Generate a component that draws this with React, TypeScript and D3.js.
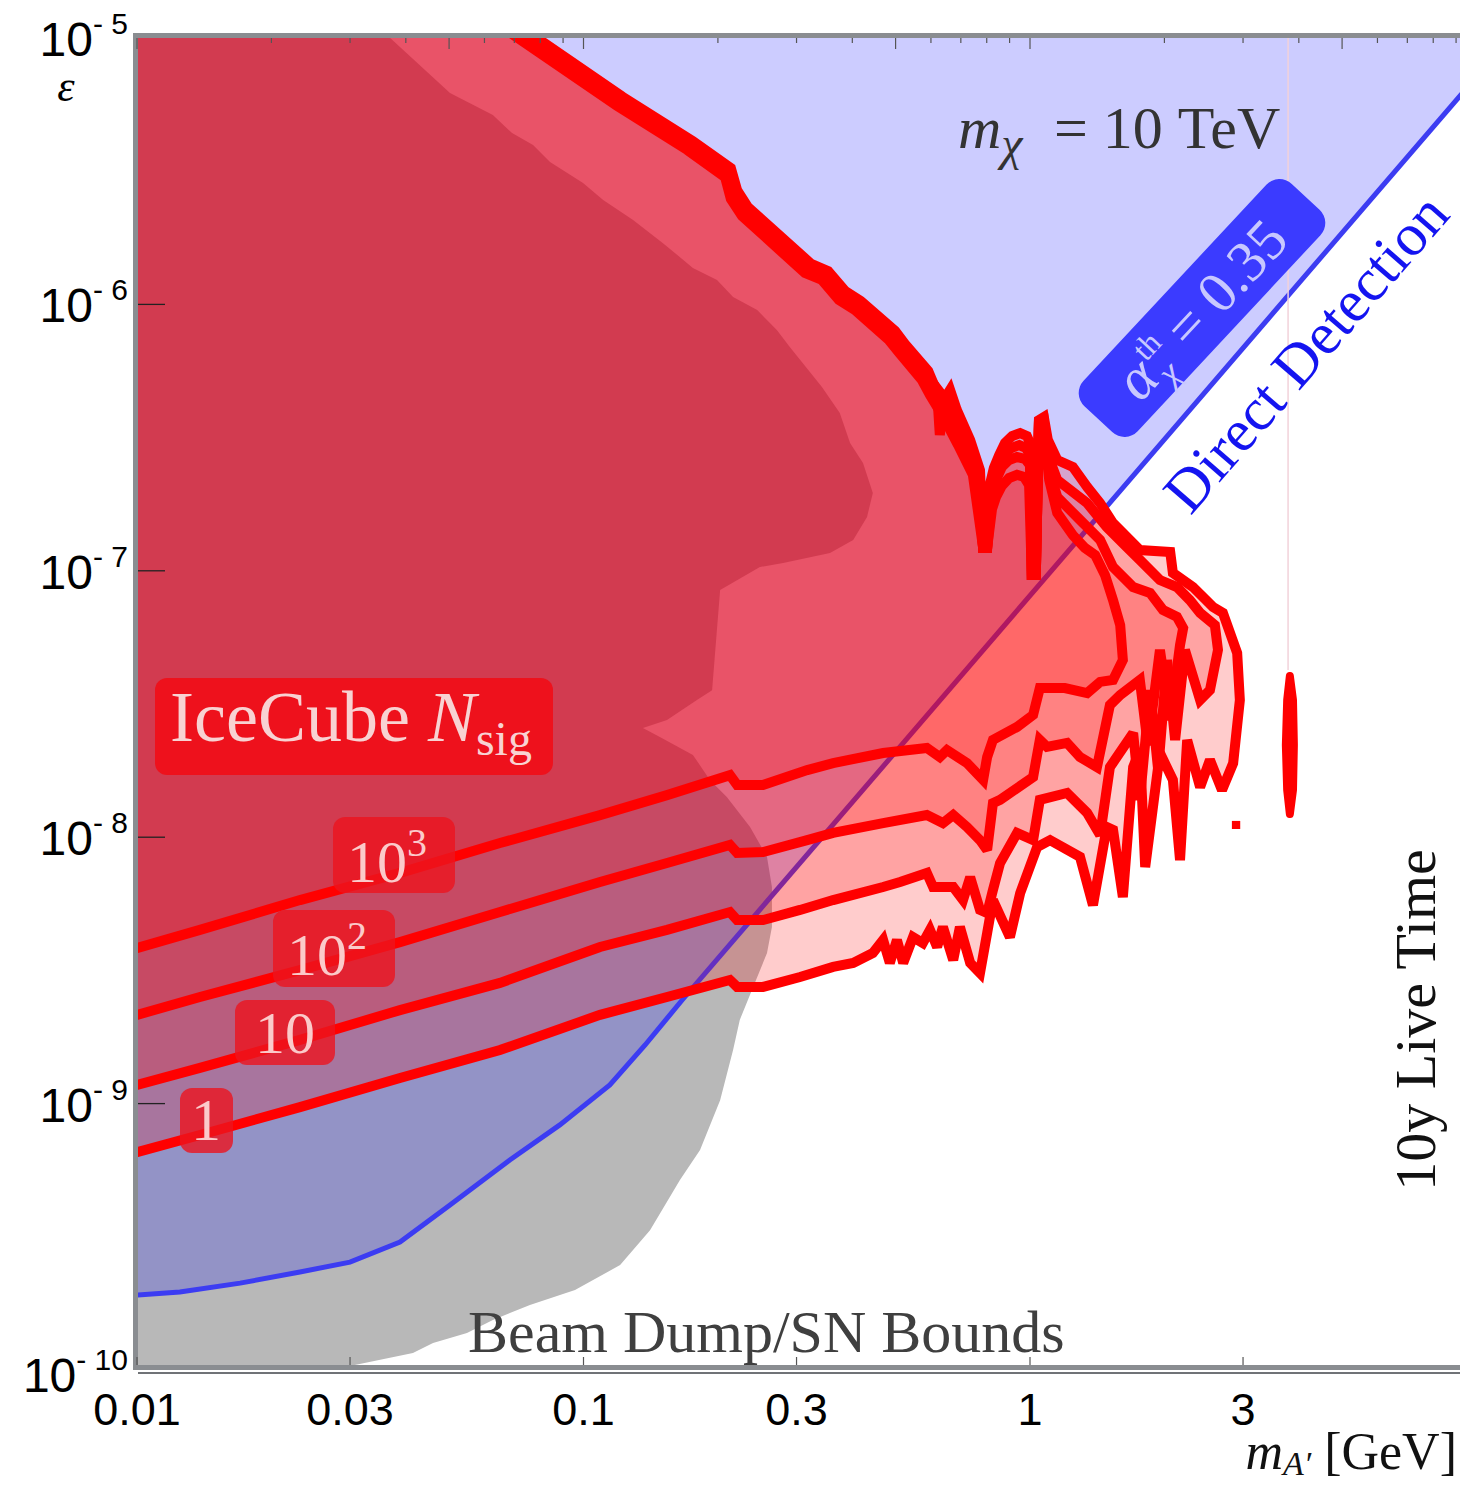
import React from "react";
import * as d3 from "d3";

type Pt = [number, number]; // [log10(m_A' / GeV), log10(epsilon)]

const W = 1460;
const H = 1486;

const massTickValues = [0.01, 0.03, 0.1, 0.3, 1, 3];
const massTickLabels = ["0.01", "0.03", "0.1", "0.3", "1", "3"];
const epsDecades = [-5, -6, -7, -8, -9, -10];

// Beam dump / SN excluded region (left of boundary), log10 coordinates
const beamDump: Pt[] = [
  [-2.022, -4.91], [-1.492, -4.91], [-1.433, -5.0], [-1.299, -5.206], [-1.203, -5.289], [-1.16, -5.357],
  [-1.113, -5.402], [-1.075, -5.465], [-1.001, -5.544], [-0.956, -5.608], [-0.889, -5.683], [-0.822, -5.77],
  [-0.755, -5.863], [-0.701, -5.908], [-0.665, -5.972], [-0.611, -6.021], [-0.567, -6.096], [-0.538, -6.16],
  [-0.466, -6.31], [-0.426, -6.408], [-0.403, -6.52], [-0.374, -6.595], [-0.352, -6.708], [-0.365, -6.798],
  [-0.396, -6.884], [-0.448, -6.933], [-0.553, -6.971], [-0.605, -6.986], [-0.694, -7.072], [-0.703, -7.26],
  [-0.712, -7.448], [-0.746, -7.485], [-0.813, -7.56], [-0.867, -7.59], [-0.829, -7.624], [-0.755, -7.691],
  [-0.717, -7.785], [-0.679, -7.849], [-0.627, -7.962], [-0.589, -8.074], [-0.578, -8.187], [-0.578, -8.337],
  [-0.589, -8.435], [-0.62, -8.562], [-0.65, -8.686], [-0.665, -8.799], [-0.694, -8.987], [-0.739, -9.174],
  [-0.784, -9.287], [-0.851, -9.475], [-0.918, -9.606], [-1.019, -9.7], [-1.12, -9.756], [-1.203, -9.812],
  [-1.261, -9.861], [-1.337, -9.899], [-1.382, -9.936], [-1.523, -9.985], [-1.635, -10.019], [-2.022, -10.03],
];

// Direct detection bound (alpha_chi^th = 0.35), excluded above
const directDetection: Pt[] = [
  [-2.022, -9.722], [-2.0, -9.719], [-1.904, -9.707], [-1.769, -9.674], [-1.635, -9.632], [-1.523, -9.595],
  [-1.411, -9.52], [-1.299, -9.381], [-1.165, -9.212], [-1.053, -9.08], [-0.941, -8.93], [-0.862, -8.78],
  [-0.779, -8.611], [1.001, -5.143],
];

// IceCube N_sig contours (closed regions)
const contourN1: Pt[] = [
  [-2.022, -9.193], [-2.0, -9.182], [-1.859, -9.118], [-1.635, -9.013], [-1.411, -8.904], [-1.187, -8.799],
  [-0.963, -8.667], [-0.813, -8.6], [-0.672, -8.536], [-0.656, -8.562], [-0.598, -8.562], [-0.515, -8.525],
  [-0.441, -8.487], [-0.396, -8.472], [-0.352, -8.435], [-0.329, -8.386], [-0.314, -8.472], [-0.298, -8.386],
  [-0.284, -8.472], [-0.262, -8.375], [-0.24, -8.397], [-0.224, -8.348], [-0.208, -8.412], [-0.195, -8.337],
  [-0.172, -8.461], [-0.157, -8.337], [-0.134, -8.472], [-0.112, -8.51], [-0.096, -8.36], [-0.083, -8.236],
  [-0.045, -8.375], [-0.022, -8.21], [0.016, -8.037], [0.045, -8.011], [0.112, -8.074], [0.141, -8.255],
  [0.172, -7.962], [0.186, -7.973], [0.208, -8.225], [0.231, -7.737], [0.246, -7.673], [0.258, -8.112],
  [0.291, -7.684], [0.32, -7.785], [0.336, -8.086], [0.352, -7.635], [0.381, -7.812], [0.403, -7.71],
  [0.43, -7.823], [0.455, -7.722], [0.47, -7.485], [0.464, -7.309], [0.432, -7.158], [0.41, -7.136],
  [0.365, -7.061], [0.32, -7.008], [0.314, -6.929], [0.246, -6.922], [0.186, -6.821], [0.157, -6.746],
  [0.128, -6.685], [0.096, -6.61], [0.061, -6.584], [0.04, -6.509], [0.031, -6.423], [0.02, -6.434],
  [0.013, -7.016], [0.004, -7.016], [0.002, -6.528], [-0.007, -6.494], [-0.022, -6.483], [-0.04, -6.494],
  [-0.056, -6.52], [-0.069, -6.565], [-0.081, -6.614], [-0.09, -6.678],
  [-0.096, -6.914], [-0.105, -6.914], [-0.112, -6.622], [-0.134, -6.509], [-0.164, -6.396], [-0.179, -6.321],
  [-0.193, -6.359], [-0.202, -6.49], [-0.208, -6.329], [-0.228, -6.25], [-0.28, -6.149], [-0.302, -6.1],
  [-0.379, -5.987], [-0.414, -5.95], [-0.452, -5.875], [-0.49, -5.848], [-0.632, -5.634], [-0.656, -5.571],
  [-0.67, -5.488], [-0.755, -5.387], [-0.912, -5.221], [-1.091, -5.015], [-1.183, -4.91], [-2.022, -4.91],
];

const contourN10: Pt[] = [
  [-2.022, -8.941], [-2.0, -8.93], [-1.859, -8.866], [-1.635, -8.761], [-1.411, -8.649], [-1.187, -8.547],
  [-0.963, -8.412], [-0.813, -8.348], [-0.672, -8.281], [-0.656, -8.311], [-0.598, -8.311], [-0.515, -8.273],
  [-0.441, -8.236], [-0.329, -8.187], [-0.291, -8.168], [-0.231, -8.134], [-0.217, -8.187], [-0.172, -8.187],
  [-0.15, -8.236], [-0.134, -8.15], [-0.112, -8.273], [-0.096, -8.285], [-0.083, -8.198], [-0.067, -8.097],
  [-0.029, -7.984], [0.007, -8.011], [0.022, -7.86], [0.083, -7.834], [0.128, -7.909], [0.157, -7.992],
  [0.179, -7.737], [0.231, -7.609], [0.246, -7.86], [0.269, -7.448], [0.287, -7.748], [0.307, -7.335], [0.325, -7.635],
  [0.347, -7.297], [0.381, -7.485], [0.403, -7.448], [0.421, -7.297], [0.414, -7.204], [0.381, -7.158],
  [0.358, -7.11], [0.329, -7.061], [0.291, -7.035], [0.246, -6.959], [0.217, -6.911], [0.172, -6.836],
  [0.128, -6.746], [0.061, -6.659], [0.04, -6.565], [0.031, -6.434], [0.02, -6.441], [0.013, -7.016],
  [0.004, -7.016], [0.0, -6.565], [-0.009, -6.539], [-0.024, -6.528], [-0.042, -6.539], [-0.058, -6.565],
  [-0.071, -6.61], [-0.082, -6.667], [-0.089, -6.734], [-0.096, -6.914],
  [-0.105, -6.914], [-0.119, -6.622], [-0.143, -6.52], [-0.172, -6.378], [-0.202, -6.329], [-0.233, -6.261],
  [-0.284, -6.16], [-0.307, -6.111], [-0.383, -5.998], [-0.419, -5.961], [-0.457, -5.886], [-0.495, -5.86],
  [-0.636, -5.646], [-0.661, -5.582], [-0.674, -5.499], [-0.759, -5.398], [-0.916, -5.233], [-1.095, -5.026],
  [-1.189, -4.917], [-2.022, -4.917],
];

const contourN100: Pt[] = [
  [-2.022, -8.679], [-2.0, -8.667], [-1.859, -8.6], [-1.635, -8.499], [-1.411, -8.394], [-1.187, -8.281],
  [-0.963, -8.168], [-0.813, -8.097], [-0.672, -8.029], [-0.656, -8.059], [-0.598, -8.056], [-0.499, -8.011],
  [-0.441, -7.984], [-0.329, -7.947], [-0.231, -7.917], [-0.195, -7.947], [-0.172, -7.917], [-0.141, -7.962],
  [-0.112, -8.011], [-0.096, -8.048], [-0.083, -7.872], [-0.067, -7.86], [0.007, -7.774], [0.022, -7.635],
  [0.038, -7.661], [0.083, -7.646], [0.112, -7.699], [0.15, -7.737], [0.179, -7.504], [0.202, -7.466],
  [0.246, -7.41], [0.264, -7.654], [0.291, -7.297], [0.314, -7.56], [0.336, -7.279], [0.343, -7.215], [0.329, -7.173], [0.298, -7.147],
  [0.269, -7.083], [0.231, -7.061], [0.186, -6.986], [0.157, -6.884], [0.112, -6.809], [0.061, -6.723],
  [0.043, -6.622], [0.029, -6.438], [0.02, -6.445], [0.013, -7.016], [0.004, -7.016], [0.0, -6.603],
  [-0.011, -6.58], [-0.029, -6.573], [-0.047, -6.584], [-0.063, -6.61], [-0.076, -6.659], [-0.085, -6.723],
  [-0.096, -6.914], [-0.105, -6.914], [-0.121, -6.622],
  [-0.152, -6.49], [-0.186, -6.378], [-0.215, -6.303], [-0.237, -6.273], [-0.289, -6.171], [-0.311, -6.122],
  [-0.387, -6.01], [-0.423, -5.972], [-0.461, -5.897], [-0.499, -5.871], [-0.641, -5.657], [-0.665, -5.593],
  [-0.679, -5.511], [-0.764, -5.409], [-0.92, -5.244], [-1.1, -5.038], [-1.196, -4.925], [-2.022, -4.925],
];

const contourN1000: Pt[] = [
  [-2.022, -8.423], [-2.0, -8.416], [-1.859, -8.348], [-1.635, -8.236], [-1.411, -8.134], [-1.187, -8.022],
  [-0.963, -7.917], [-0.813, -7.842], [-0.672, -7.767], [-0.656, -7.804], [-0.598, -7.804], [-0.499, -7.748],
  [-0.441, -7.722], [-0.329, -7.684], [-0.231, -7.665], [-0.202, -7.699], [-0.186, -7.673], [-0.141, -7.722],
  [-0.105, -7.785], [-0.096, -7.699], [-0.083, -7.635], [-0.029, -7.586], [0.007, -7.541], [0.022, -7.44],
  [0.078, -7.44], [0.128, -7.459], [0.157, -7.417], [0.186, -7.41], [0.208, -7.335], [0.202, -7.204],
  [0.186, -7.11], [0.168, -7.016], [0.146, -6.941], [0.123, -6.914], [0.096, -6.866], [0.061, -6.783],
  [0.043, -6.659], [0.029, -6.441], [0.02, -6.449], [0.013, -7.016], [0.004, -7.016], [-0.002, -6.678],
  [-0.013, -6.648], [-0.029, -6.64], [-0.047, -6.652], [-0.063, -6.681], [-0.076, -6.723], [-0.085, -6.768],
  [-0.096, -6.914], [-0.105, -6.914], [-0.128, -6.64],
  [-0.161, -6.528], [-0.193, -6.426], [-0.224, -6.34], [-0.242, -6.284], [-0.293, -6.182], [-0.316, -6.134],
  [-0.392, -6.021], [-0.428, -5.983], [-0.466, -5.908], [-0.504, -5.882], [-0.645, -5.668], [-0.67, -5.604],
  [-0.683, -5.522], [-0.768, -5.42], [-0.925, -5.255], [-1.104, -5.049], [-1.203, -4.936], [-2.022, -4.936],
];

// small isolated islands of the N=1 contour
const islandN1: Pt[] = [
  [0.582, -7.395], [0.589, -7.485], [0.591, -7.654], [0.589, -7.823], [0.582, -7.913], [0.576, -7.823],
  [0.573, -7.654], [0.576, -7.485],
];
const dotN1: Pt[] = [[0.46, -7.952], [0.463, -7.952], [0.463, -7.956], [0.46, -7.956]];
const faintLine: Pt[] = [[0.578, -4.95], [0.578, -7.372]];

const contours = [contourN1, contourN10, contourN100, contourN1000];

export default function App() {
  const x = d3.scaleLog().domain([0.01, 10]).range([137, 1476.5]);
  const y = d3.scaleLog().domain([1e-10, 1e-5]).range([1370, 38]);
  const proj = (p: Pt[]) => p.map(([lm, le]) => [x(Math.pow(10, lm)), y(Math.pow(10, le))] as [number, number]);
  const lineGen = d3.line();
  const closed = (p: Pt[]) => (lineGen(proj(p)) || "") + "Z";
  const open = (p: Pt[]) => lineGen(proj(p)) || "";
  const serif = "'Liberation Serif', 'Times New Roman', serif";
  const sans = "'Liberation Sans', Arial, sans-serif";

  const topTicks: { v: number; major: boolean }[] = [];
  [0.01, 0.1, 1].forEach((d) => {
    for (let k = 1; k <= 9; k++) topTicks.push({ v: d * k, major: k === 1 || k === 5 });
  });

  const ddPoly: Pt[] = [...directDetection, [1.001, -4.9], [-2.022, -4.9]];
  const boxFill = "rgba(236,20,30,0.8)";
  const boxText = "#fbcaca";

  return (
    <svg width={W} height={H} style={{ position: "absolute", left: 0, top: 0, background: "#fff" }}>
      <defs>
        <clipPath id="plotclip">
          <rect x={138} y={38} width={1340} height={1329} />
        </clipPath>
      </defs>
      <rect width={W} height={H} fill="#fff" />
      <g clipPath="url(#plotclip)">
        <path d={closed(beamDump)} fill="#b8b8b8" />
        <path d={closed(ddPoly)} fill="rgba(0,0,255,0.2)" />
        <path d={open(directDetection)} fill="none" stroke="#3c3cf2" strokeWidth={5} />
        <path d={open(faintLine)} fill="none" stroke="#f2d2da" strokeWidth={1.5} />
        {contours.map((c, i) => (
          <path key={i} d={closed(c)} fill="rgba(255,0,0,0.2)" stroke="#ff0000" strokeWidth={10}
            strokeLinejoin="miter" strokeMiterlimit={2.5} />
        ))}
        <path d={closed(islandN1)} fill="#ff0000" stroke="#ff0000" strokeWidth={8} strokeLinejoin="round" />
        <path d={closed(dotN1)} fill="#ff0000" stroke="#ff0000" strokeWidth={7} />
      </g>

      {/* frame */}
      <line x1={133} x2={W} y1={35.5} y2={35.5} stroke="#8a8d91" strokeWidth={5} />
      <line x1={135.5} x2={135.5} y1={33} y2={1370} stroke="#8a8d91" strokeWidth={5} />
      <line x1={133} x2={W} y1={1367.5} y2={1367.5} stroke="#8a8d91" strokeWidth={5} />
      <line x1={138} x2={W} y1={1373} y2={1373} stroke="#707377" strokeWidth={2} />

      {/* top ticks */}
      {topTicks.map((t, i) => (
        <line key={i} x1={x(t.v)} x2={x(t.v)} y1={38} y2={38 + (t.major ? 11 : 5)} stroke="#555" strokeWidth={1.2} />
      ))}
      {/* bottom ticks and labels */}
      {massTickValues.map((v, i) => (
        <g key={i}>
          <line x1={x(v)} x2={x(v)} y1={1365} y2={1357} stroke="#555" strokeWidth={1.2} />
          <text x={x(v)} y={1425} textAnchor="middle" fontFamily={sans} fontSize={45} fill="#000">
            {massTickLabels[i]}
          </text>
        </g>
      ))}
      {/* left ticks and labels */}
      {epsDecades.map((e, i) => {
        const yy = y(Math.pow(10, e));
        return (
          <g key={i}>
            {i > 0 && i < epsDecades.length - 1 && (
              <line x1={138} x2={165} y1={yy} y2={yy} stroke="#222" strokeWidth={1.3} />
            )}
            <text x={128} y={yy + (i === epsDecades.length - 1 ? 22 : 18)} textAnchor="end" fontFamily={sans} fill="#000">
              <tspan fontSize={48}>10</tspan>
              <tspan fontSize={30} dy={-22}>{"- " + String(-e)}</tspan>
            </text>
          </g>
        );
      })}

      {/* axis labels */}
      <text x={66} y={101} textAnchor="middle" fontFamily={serif} fontStyle="italic" fontSize={44} fill="#000">ε</text>
      <text x={1457} y={1469} textAnchor="end" fontFamily={serif} fontSize={52} fill="#111">
        <tspan fontStyle="italic">m</tspan>
        <tspan fontStyle="italic" fontSize={34} dy={6}>A′</tspan>
        <tspan dy={-6}>{" [GeV]"}</tspan>
      </text>

      {/* annotations */}
      <text x={958} y={148} fontFamily={serif} fontSize={60} fill="#333">
        <tspan fontStyle="italic">m</tspan>
        <tspan fontStyle="italic" fontSize={48} dy={12}>χ</tspan>
        <tspan x={1054} dy={-12}>= 10 TeV</tspan>
      </text>

      <text x={468} y={1352} fontFamily={serif} fontSize={60} fill="#3f3f3f">Beam Dump/SN Bounds</text>

      <text transform="translate(1435,1020) rotate(-90)" textAnchor="middle" fontFamily={serif} fontSize={58} fill="#111">
        10y Live Time
      </text>

      <text transform="translate(1321,366) rotate(-49)" textAnchor="middle" fontFamily={serif} fontSize={60} fill="#1414f0">
        Direct Detection
      </text>

      <g transform="translate(1202,308) rotate(-47)">
        <rect x={-152} y={-37} width={304} height={74} rx={18} fill="#3b3bff" />
        <text x={-112} y={20} fontFamily={serif} fontStyle="italic" fontSize={60} fill="#c8c8ff">α</text>
        <text x={-78} y={-4} fontFamily={serif} fontSize={32} fill="#c8c8ff">th</text>
        <text x={-78} y={32} fontFamily={serif} fontStyle="italic" fontSize={36} fill="#c8c8ff">χ</text>
        <text x={-40} y={20} fontFamily={serif} fontSize={58} fill="#c8c8ff">= 0.35</text>
      </g>

      {/* IceCube label */}
      <rect x={155} y={678} width={398} height={97} rx={12} fill="rgba(240,14,24,0.92)" />
      <text x={170} y={741} fontFamily={serif} fontSize={72} fill="#f8d2d2">
        IceCube <tspan fontStyle="italic">N</tspan>
        <tspan fontSize={48} dy={14}>sig</tspan>
      </text>

      {/* contour level labels */}
      <rect x={333} y={817} width={122} height={76} rx={12} fill={boxFill} />
      <text x={347} y={882} fontFamily={serif} fontSize={60} fill={boxText}>
        10<tspan fontSize={40} dy={-26}>3</tspan>
      </text>
      <rect x={273} y={910} width={122} height={77} rx={12} fill={boxFill} />
      <text x={287} y={975} fontFamily={serif} fontSize={60} fill={boxText}>
        10<tspan fontSize={40} dy={-26}>2</tspan>
      </text>
      <rect x={235} y={1000} width={100} height={65} rx={12} fill={boxFill} />
      <text x={285} y={1053} textAnchor="middle" fontFamily={serif} fontSize={60} fill={boxText}>10</text>
      <rect x={180} y={1088} width={53} height={65} rx={12} fill={boxFill} />
      <text x={206} y={1140} textAnchor="middle" fontFamily={serif} fontSize={60} fill={boxText}>1</text>
    </svg>
  );
}
